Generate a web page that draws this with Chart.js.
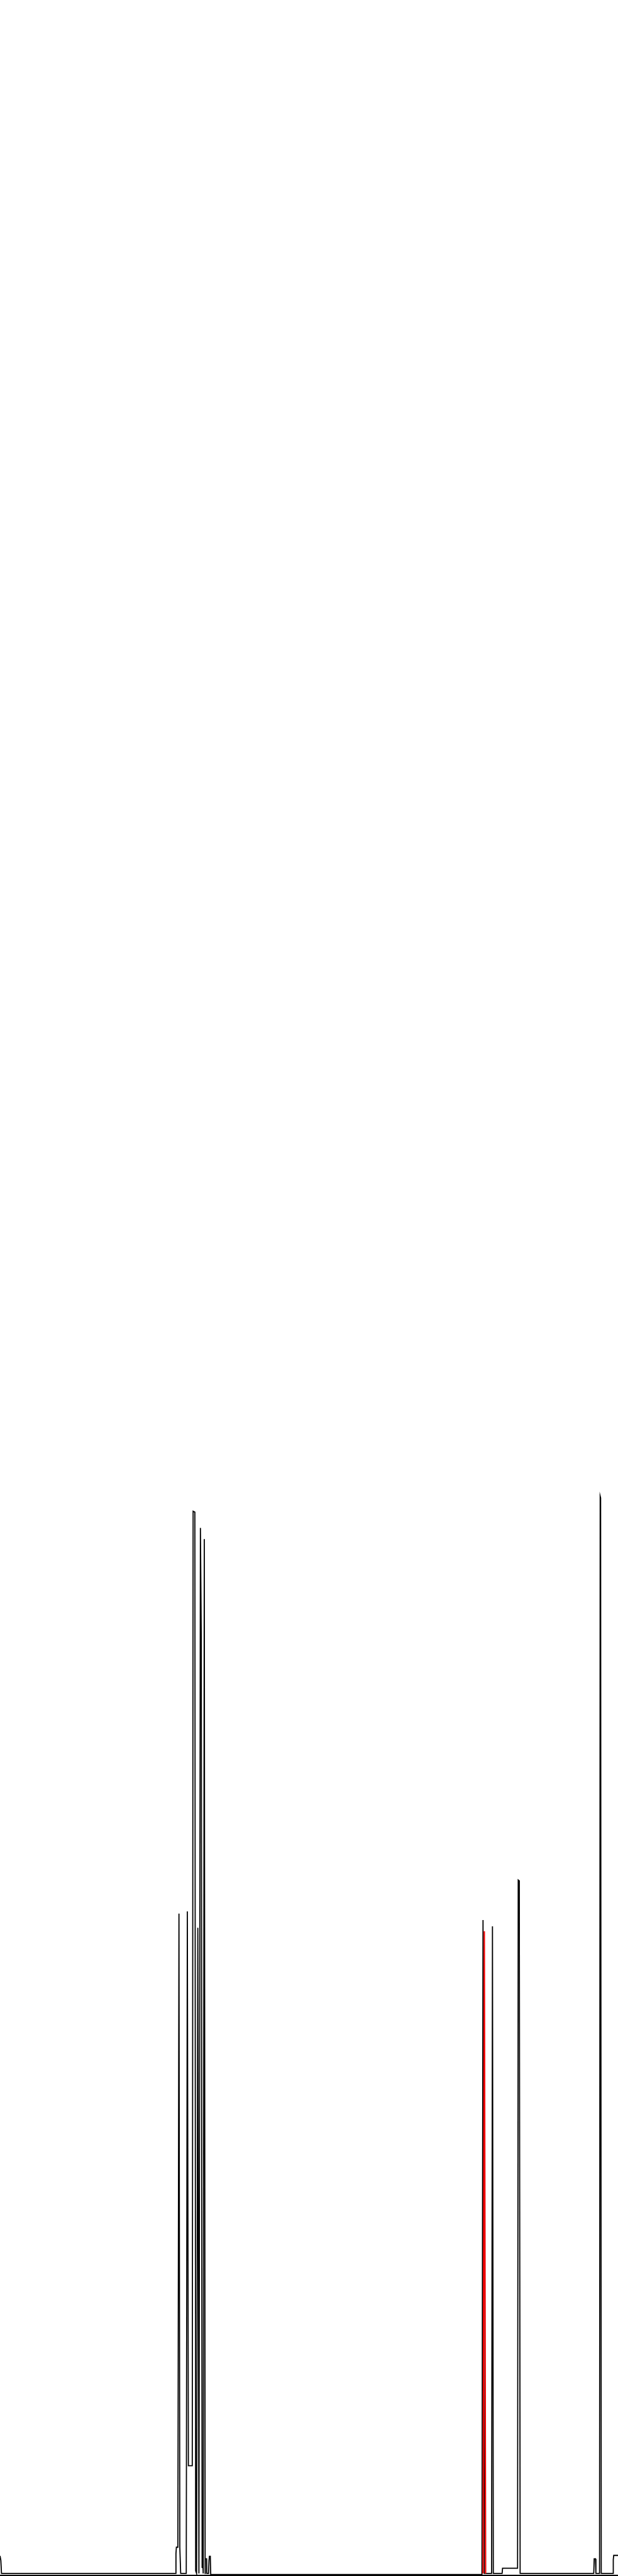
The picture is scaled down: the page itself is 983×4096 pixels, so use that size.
<!DOCTYPE html>
<html>
<head>
<meta charset="utf-8">
<script src="https://cdn.jsdelivr.net/npm/chart.js@4.4.0/dist/chart.umd.min.js"></script>
<style>
  html, body { margin: 0; padding: 0; background: #fff; }
  canvas { display: block; }
</style>
</head>
<body>
<canvas id="chart" width="983" height="4096"></canvas>
<script>
// minute of day (0-1440) and level for each series
const blackMinutes = [0, 2, 3.5, 409, 410, 411, 414.5, 417, 419, 420, 421,
  434, 436.5, 439, 448, 450, 454, 456, 458, 461, 463.5, 467, 469, 471, 473, 473.5, 476, 478,
  478.5, 481.5, 482, 486, 487, 488, 490, 491, 1123, 1125.5, 1128.5,
  1145.5, 1147.5, 1149.5, 1170, 1171, 1206, 1207.5, 1210, 1212,
  1383.5, 1384.5, 1387.5, 1388.5, 1397, 1398.5, 1399.5, 1401, 1428.5, 1429, 1430, 1440];
const blackLevels = [41, 30, 0, 0, 46, 61, 61, 1537, 61, 61, 0,
  0, 1542, 251, 251, 2474, 2472, 6, 0, 1504, 0, 2435, 2181, 14, 14, 0, 2409, 0,
  34, 34, 0, 0, 30, 40, 40, -2.5, -2.5, 1522, 0,
  0, 1507, 0, 0, 12, 12, 1615, 1613, 0,
  0, 34, 34, 0, 0, 2509, 2505, 0, 0, 32, 42, 42];

const redMinutes = [1125.5, 1128.5, 1131.5];
const redLevels = [0, 1496, 0];

const baseLevel = -4.5;

function toPoints(xs, ys) {
  return xs.map((x, i) => ({ x: x, y: ys[i] }));
}

const ctx = document.getElementById('chart').getContext('2d');
const chart = new Chart(ctx, {
  type: 'line',
  data: {
    datasets: [{
      label: 'red',
      data: toPoints(redMinutes, redLevels),
      borderColor: '#ee0000',
      borderWidth: 2.2,
      pointRadius: 0,
      tension: 0
    }, {
      label: 'black',
      data: toPoints(blackMinutes, blackLevels),
      borderColor: '#000000',
      borderWidth: 1.8,
      pointRadius: 0,
      tension: 0
    }]
  },
  options: {
    responsive: false,
    animation: false,
    devicePixelRatio: 1,
    layout: { padding: 0 },
    plugins: { legend: { display: false }, tooltip: { enabled: false } },
    scales: {
      x: { type: 'linear', min: 0, max: 1440, display: false },
      y: {
        min: -6,
        max: 5994,
        ticks: { display: false },
        grid: { drawTicks: false, color: '#000000', lineWidth: 2.2 },
        border: { display: false },
        afterBuildTicks: function (scale) { scale.ticks = [{ value: baseLevel }]; }
      }
    }
  }
});
</script>
</body>
</html>
